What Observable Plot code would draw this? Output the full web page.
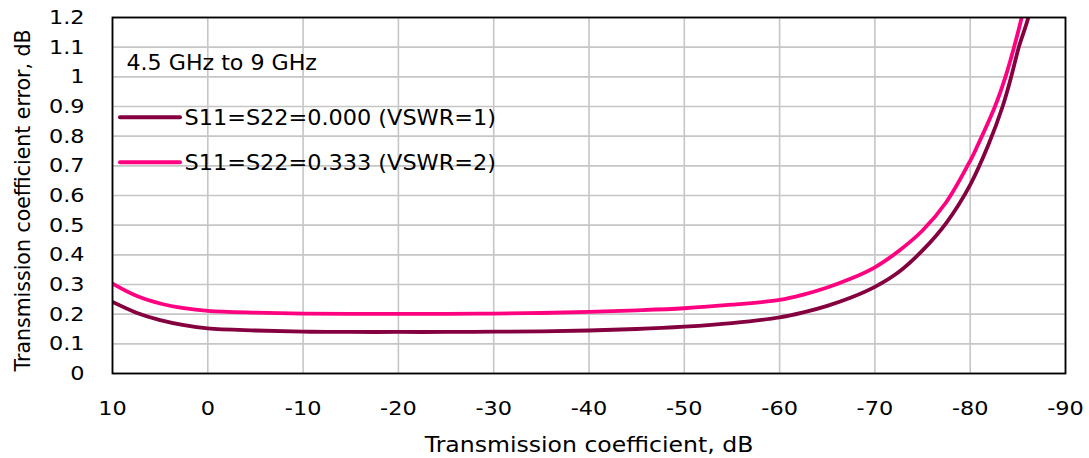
<!DOCTYPE html>
<html>
<head>
<meta charset="utf-8">
<script src="https://cdn.jsdelivr.net/npm/d3@7"></script>
<script src="https://cdn.jsdelivr.net/npm/@observablehq/plot@0.6"></script>
<style>
  html, body { margin: 0; padding: 0; background: #fff; }
  #chart svg { display: block; }
</style>
</head>
<body>
<div id="chart"></div>
<script>
// Matched ports (VSWR = 1): transmission coefficient (dB) and its error (dB)
const gainVswr1 = [10, 7.5, 5, 2.5, 0, -5, -10, -15, -20, -25, -30, -35, -40, -45, -50, -55, -60, -62.5, -65, -67.5, -70, -72.5, -75, -77.5, -80, -81.9, -83.4, -84.3, -85.1, -86.1, -87];
const errVswr1 = [0.241, 0.205, 0.180, 0.163, 0.152, 0.145, 0.141, 0.140, 0.140, 0.140, 0.141, 0.142, 0.145, 0.150, 0.158, 0.170, 0.189, 0.206, 0.228, 0.256, 0.292, 0.342, 0.415, 0.508, 0.636, 0.770, 0.900, 1.000, 1.100, 1.200, 1.330];
// Mismatched ports (VSWR = 2): transmission coefficient (dB) and its error (dB)
const gainVswr2 = [10, 7.5, 5, 2.5, 0, -5, -10, -15, -20, -25, -30, -35, -40, -45, -50, -55, -60, -62.5, -65, -67.5, -70, -72.5, -75, -77.5, -80, -80.8, -82.6, -83.7, -84.6, -85.4, -86.2];
const errVswr2 = [0.303, 0.262, 0.236, 0.220, 0.211, 0.205, 0.202, 0.201, 0.201, 0.201, 0.202, 0.204, 0.208, 0.213, 0.220, 0.232, 0.248, 0.266, 0.290, 0.320, 0.358, 0.413, 0.482, 0.578, 0.717, 0.770, 0.900, 1.000, 1.100, 1.200, 1.320];

const seriesNames = ["S11=S22=0.000 (VSWR=1)", "S11=S22=0.333 (VSWR=2)"];
const seriesColors = ["#84003f", "#ff0080"];
const xTicks = [10, 0, -10, -20, -30, -40, -50, -60, -70, -80, -90];
const yTicks = [0, 0.1, 0.2, 0.3, 0.4, 0.5, 0.6, 0.7, 0.8, 0.9, 1, 1.1, 1.2];
const xTitle = "Transmission coefficient, dB";
const yTitle = "Transmission coefficient error, dB";
const rangeNote = "4.5 GHz to 9 GHz";

const rows = [];
[[gainVswr1, errVswr1], [gainVswr2, errVswr2]].forEach(([gains, errors], s) => {
  gains.forEach((g, i) => rows.push({gain: g, error: errors[i], series: seriesNames[s]}));
});

const gridStyle = {stroke: "#c6c6c6", strokeOpacity: 1, strokeWidth: 1.6};
const font = "DejaVu Sans";

const chart = Plot.plot({
  width: 1089,
  height: 458,
  marginLeft: 112,
  marginRight: 24,
  marginTop: 17,
  marginBottom: 85,
  style: {fontFamily: font, fontSize: "20px", color: "#000", background: "#fff", overflow: "visible"},
  x: {domain: [10, -90]},
  y: {domain: [0, 1.2]},
  color: {domain: seriesNames, range: seriesColors},
  marks: [
    Plot.gridX(xTicks, gridStyle),
    Plot.gridY(yTicks, gridStyle),
    Plot.line(rows, {x: "gain", y: "error", z: "series", stroke: "series", strokeWidth: 3.8, curve: "catmull-rom", clip: true}),
    Plot.frame({stroke: "#000", strokeWidth: 1.8}),
    Plot.axisX(xTicks, {tickSize: 0, tickPadding: 27, tickFormat: d => String(d), label: null, fontSize: 20}),
    Plot.axisY(yTicks, {tickSize: 0, tickPadding: 28, tickFormat: d => String(d), label: null, fontSize: 20}),
    Plot.text([xTitle], {text: d => d, frameAnchor: "bottom", dy: 72, fontSize: 20.5, textAnchor: "middle", lineAnchor: "middle"}),
    Plot.text([yTitle], {text: d => d, frameAnchor: "left", dx: -89.5, dy: 5, rotate: -90, fontSize: 20.5, textAnchor: "middle", lineAnchor: "middle"}),
    Plot.text([rangeNote], {text: d => d, frameAnchor: "top-left", dx: 14, dy: 46, textAnchor: "start", lineAnchor: "middle", fontSize: 20.5})
  ]
});

document.getElementById("chart").appendChild(chart);

const svg = d3.select(chart);

// Legend placed inside the plot area, under the frequency note
const legend = svg.append("g").attr("aria-label", "legend");
seriesNames.forEach((name, i) => {
  const y = 117.3 + i * 45;
  legend.append("line")
    .attr("x1", 120).attr("x2", 180).attr("y1", y).attr("y2", y)
    .attr("stroke", seriesColors[i]).attr("stroke-width", 4).attr("stroke-linecap", "round");
  legend.append("text")
    .attr("transform", `translate(184.5,${y})`)
    .attr("dy", "0.35em")
    .attr("text-anchor", "start")
    .attr("font-family", font)
    .attr("font-size", 21)
    .attr("fill", "#000")
    .text(name);
});

// Widen horizontal labels about their anchor point
function widen(selection, sx) {
  selection.each(function () {
    const xa = this.getAttribute("x"), ya = this.getAttribute("y");
    const numX = xa !== null && !/em/.test(xa), numY = ya !== null && !/em/.test(ya);
    const x = numX ? +xa : 0, y = numY ? +ya : 0;
    if (numX) this.removeAttribute("x");
    if (numY) this.removeAttribute("y");
    const t = this.getAttribute("transform") || "";
    this.setAttribute("transform", `${t} translate(${x},${y}) scale(${sx},1)`);
  });
}
const byText = s => svg.selectAll("text").filter(function () { return this.textContent === s; });
widen(svg.selectAll('g[aria-label="x-axis tick label"] text'), 1.12);
widen(svg.selectAll('g[aria-label="y-axis tick label"] text'), 1.12);
widen(byText(xTitle), 1.15);
widen(byText(rangeNote), 1.08);
seriesNames.forEach(n => widen(byText(n), 1.065));
</script>
</body>
</html>
